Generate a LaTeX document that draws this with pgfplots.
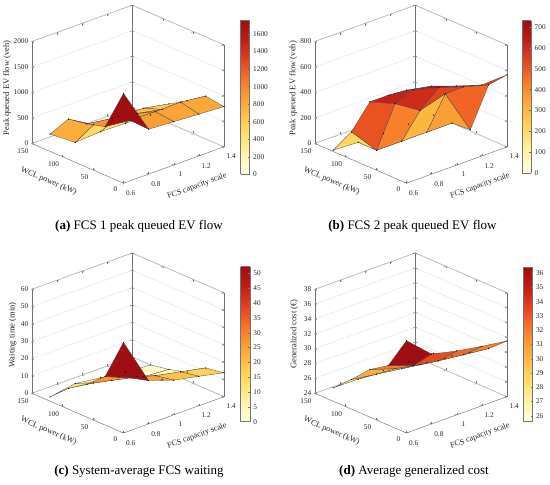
\documentclass[border=0pt]{standalone}
\usepackage{pgfplots}
\pgfplotsset{compat=1.18}
\usepackage{fontspec}
\setmainfont{Liberation Serif}
\pgfplotsset{
  colormap={ylorrd}{rgb255=(255,255,229) rgb255=(255,244,176) rgb255=(254,225,110) rgb255=(253,196,72) rgb255=(250,158,52) rgb255=(245,114,40) rgb255=(226,64,30) rgb255=(192,28,24) rgb255=(158,14,18)},
  surfax/.style={
    anchor=origin,
    x={(125.6pt,45.4pt)}, y={(-0.61133pt,0.26467pt)},
    xmin=0.6, xmax=1.4, ymin=0, ymax=150,
    xtick={0.6,0.8,1,1.2,1.4}, ytick={0,50,100,150},
    zmajorgrids=true,
    major grid style={draw=black!13, line width=0.35pt},
    axis line style={draw=black!55, line width=0.45pt},
    tick style={draw=black!55, line width=0.45pt},
    major tick length=2.2pt,
    tick label style={font=\fontsize{7.3}{8}\selectfont, text=black!85},
    xticklabel style={xshift=2.5pt, yshift=-2.5pt},
    yticklabel style={xshift=-3.5pt},
    /pgf/number format/assume math mode=true,
    /pgf/number format/1000 sep={},
    scaled ticks=false,
    colormap name=ylorrd,
    z buffer=sort,
    clip=false,
  },
  surfplot/.style={surf, shader=flat corner, shader=faceted, faceted color=black!70, line width=0.3pt,
    mark=*, mark size=0.45pt, mark options={draw=black, fill=black, line width=0.1pt}},
  cbax/.style={anchor=south west, scale only axis, width=9.2pt, view={0}{90},
    xmin=0, xmax=1, zmin=-1, zmax=1, xtick=\empty, ztick=\empty,
    ytick pos=right, yticklabel pos=right, tick align=inside, major tick length=2pt,
    axis line style={draw=black!55, line width=0.45pt},
    tick style={draw=black!55, line width=0.4pt},
    tick label style={font=\fontsize{7.3}{8}\selectfont, text=black!85},
    /pgf/number format/assume math mode=true,
    /pgf/number format/1000 sep={},
    colormap name=ylorrd, enlargelimits=false, clip=false},
}
\begin{document}
\begin{tikzpicture}
\path[use as bounding box] (0,0) rectangle (550pt,485pt);

% ---------------- (a)
\begin{axis}[surfax, at={(123.5pt,301.8pt)}, z={(0pt,0.051pt)}, zmin=0, zmax=2000, ztick={0,500,...,2000},
  point meta min=0, point meta max=1760]
\addplot3[surfplot] table {
x y z
0.6 0 1760
0.8 0 880
1.0 0 850
1.2 0 820
1.4 0 790

0.6 30 955
0.8 30 900
1.0 30 890
1.2 30 900
1.4 30 840

0.6 60 850
0.8 60 780
1.0 60 700
1.2 60 600
1.4 60 590

0.6 90 790
0.8 90 500
1.0 90 480
1.2 90 470
1.4 90 375

0.6 120 340
0.8 120 0
1.0 120 30
1.2 120 20
1.4 120 0
};
\end{axis}
\begin{axis}[cbax, at={(240.5pt,310.7pt)}, height=154.3pt, ymin=0, ymax=1760, ytick={0,200,...,1600},
  point meta min=0, point meta max=1760]
\addplot3[surf, shader=interp, point meta=y] coordinates {(0,0,0) (1,0,0)

(0,1760,0) (1,1760,0)};
\end{axis}

% ---------------- (b)
\begin{axis}[surfax, at={(406.5pt,301.8pt)}, z={(0pt,0.1275pt)}, zmin=0, zmax=800, ztick={0,200,...,800},
  point meta min=0, point meta max=730]
\addplot3[surfplot] table {
x y z
0.6 0 730
0.8 0 690
1.0 0 620
1.2 0 557
1.4 0 565

0.6 30 628
0.8 30 600
1.0 30 544
1.2 30 480
1.4 30 424

0.6 60 513
0.8 60 428
1.0 60 304
1.2 60 363
1.4 60 10

0.6 90 216
0.8 90 0
1.0 90 0
1.2 90 0
1.4 90 0

0.6 120 10
0.8 120 0
1.0 120 0
1.2 120 0
1.4 120 0
};
\end{axis}
\begin{axis}[cbax, at={(522pt,311.7pt)}, height=152.6pt, ymin=0, ymax=730, ytick={0,100,...,700},
  point meta min=0, point meta max=730]
\addplot3[surf, shader=interp, point meta=y] coordinates {(0,0,0) (1,0,0)

(0,730,0) (1,730,0)};
\end{axis}

% ---------------- (c)
\begin{axis}[surfax, at={(123.5pt,52pt)}, z={(0pt,1.7333pt)}, zmin=0, zmax=60, ztick={0,10,...,60},
  point meta min=0, point meta max=52.3]
\addplot3[surfplot] table {
x y z
0.6 0 52.3
0.8 0 25
1.0 0 20
1.2 0 17
1.4 0 13.8

0.6 30 28
0.8 30 22
1.0 30 18
1.2 30 15
1.4 30 12

0.6 60 19
0.8 60 16
1.0 60 13
1.2 60 6
1.4 60 5

0.6 90 12
0.8 90 10
1.0 90 8
1.2 90 3
1.4 90 2

0.6 120 2.5
0.8 120 5
1.0 120 3
1.2 120 1
1.4 120 0
};
\end{axis}
\begin{axis}[cbax, at={(240.7pt,63.3pt)}, height=155pt, ymin=0, ymax=52.3, ytick={0,5,...,50},
  point meta min=0, point meta max=52.3]
\addplot3[surf, shader=interp, point meta=y] coordinates {(0,0,0) (1,0,0)

(0,52.3,0) (1,52.3,0)};
\end{axis}

% ---------------- (d)
\begin{axis}[surfax, at={(406.5pt,52pt)}, z={(0pt,7.4286pt)}, zmin=24, zmax=38, ztick={24,26,...,38},
  point meta min=25.58, point meta max=36.42]
\addplot3[surfplot] table {
x y z
0.6 0 36.42
0.8 0 33.4
1.0 0 32.6
1.2 0 32.0
1.4 0 31.5

0.6 30 32.0
0.8 30 30.8
1.0 30 30.2
1.2 30 29.8
1.4 30 29.4

0.6 60 30.4
0.8 60 29.3
1.0 60 28.6
1.2 60 28.2
1.4 60 27.8

0.6 90 28.0
0.8 90 27.5
1.0 90 27.0
1.2 90 26.6
1.4 90 26.3

0.6 120 25.8
0.8 120 25.75
1.0 120 25.7
1.2 120 25.65
1.4 120 25.58
};
\end{axis}
\begin{axis}[cbax, at={(523.3pt,63.3pt)}, height=154.4pt, ymin=25.58, ymax=36.42, ytick={26,27,...,36},
  point meta min=25.58, point meta max=36.42]
\addplot3[surf, shader=interp, point meta=y] coordinates {(0,25.58,0) (1,25.58,0)

(0,36.42,0) (1,36.42,0)};
\end{axis}

% ---------------- labels
\begin{scope}[every node/.style={font=\fontsize{8.5}{10}\selectfont, text=black!85, inner sep=0pt}]
\node[rotate=90] at (7pt,397pt) {Peak queued EV flow (veh)};
\node[rotate=90] at (293.3pt,396.7pt) {Peak queued EV flow (veh)};
\node[rotate=90] at (12.7pt,150pt) {Waiting time (min)};
\node[rotate=90] at (294.3pt,151pt) {Generalized cost (€)};
\end{scope}
\begin{scope}[every node/.style={font=\fontsize{8.2}{10}\selectfont, text=black!85, inner sep=0pt}]
\node[rotate=-23.4] at (48.7pt,303.7pt) {WCL power (kW)};
\node[rotate=20] at (197pt,298.8pt) {FCS capacity scale};
\node[rotate=-23.4] at (331.7pt,303.7pt) {WCL power (kW)};
\node[rotate=20] at (480pt,299pt) {FCS capacity scale};
\node[rotate=-23.4] at (48.7pt,53.9pt) {WCL power (kW)};
\node[rotate=20] at (197pt,49pt) {FCS capacity scale};
\node[rotate=-23.4] at (331.7pt,53.9pt) {WCL power (kW)};
\node[rotate=20] at (480pt,49pt) {FCS capacity scale};
\end{scope}
\begin{scope}[every node/.style={font=\fontsize{13}{15}\selectfont, inner sep=0pt}]
\node at (139pt,258.3pt) {\textbf{(a)} FCS 1 peak queued EV flow};
\node at (412.5pt,258.3pt) {\textbf{(b)} FCS 2 peak queued EV flow};
\node at (139pt,13.3pt) {\textbf{(c)} System-average FCS waiting};
\node at (414pt,13.3pt) {\textbf{(d)} Average generalized cost};
\end{scope}
\end{tikzpicture}
\end{document}
